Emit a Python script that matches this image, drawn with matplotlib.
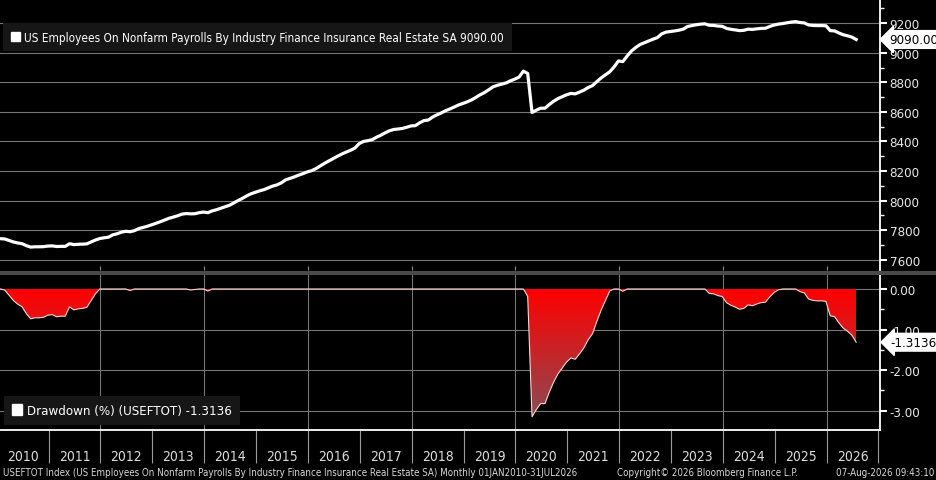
import numpy as np
import matplotlib.pyplot as plt
import matplotlib.transforms as mtransforms
from matplotlib.colors import LinearSegmentedColormap
from matplotlib.patches import Patch, Rectangle
from matplotlib.ticker import MultipleLocator, FixedLocator, FuncFormatter, NullFormatter

plt.rcParams['font.family'] = ['DejaVu Sans']
plt.rcParams['font.stretch'] = 'condensed'

# USEFTOT monthly, Jan 2010 - Jul 2026 (thousands)
payrolls = [
    7742, 7740, 7730, 7720, 7713, 7708, 7695, 7685, 7687, 7687, 7688, 7692,  # 2010
    7693, 7689, 7690, 7690, 7708, 7702, 7704, 7705, 7707, 7720, 7733, 7743,  # 2011
    7748, 7752, 7768, 7775, 7786, 7792, 7789, 7796, 7810, 7818, 7826, 7836,  # 2012
    7846, 7857, 7868, 7880, 7888, 7897, 7908, 7912, 7910, 7911, 7918, 7922,  # 2013
    7918, 7930, 7938, 7948, 7958, 7968, 7984, 8000, 8015, 8032, 8046, 8056,  # 2014
    8066, 8074, 8086, 8098, 8106, 8120, 8140, 8150, 8160, 8172, 8182, 8194,  # 2015
    8202, 8216, 8234, 8252, 8268, 8284, 8300, 8315, 8328, 8340, 8355, 8385,  # 2016
    8400, 8405, 8412, 8428, 8442, 8458, 8472, 8481, 8484, 8488, 8496, 8505,  # 2017
    8507, 8526, 8541, 8545, 8565, 8580, 8593, 8608, 8620, 8633, 8647, 8657,  # 2018
    8668, 8681, 8698, 8716, 8731, 8750, 8770, 8780, 8788, 8796, 8810, 8822,  # 2019
    8835, 8876, 8860, 8596, 8612, 8625, 8625, 8650, 8672, 8690, 8703, 8716,  # 2020
    8725, 8722, 8734, 8747, 8765, 8778, 8805, 8830, 8851, 8872, 8905, 8945,  # 2021
    8940, 8978, 9012, 9036, 9056, 9068, 9080, 9092, 9103, 9128, 9140, 9144,  # 2022
    9148, 9153, 9160, 9178, 9184, 9190, 9194, 9196, 9186, 9185, 9181, 9179,  # 2023
    9165, 9159, 9155, 9150, 9152, 9160, 9158, 9162, 9165, 9166, 9178, 9188,  # 2024
    9194, 9198, 9203, 9208, 9211, 9205, 9202, 9188, 9185, 9184, 9184, 9183,  # 2025
    9150, 9148, 9134, 9122, 9115, 9106, 9090,                                # 2026
]
start_year = 2010
years = list(range(2010, 2027))

title_top = 'US Employees On Nonfarm Payrolls By Industry Finance Insurance Real Estate SA 9090.00'
title_bot = 'Drawdown (%) (USEFTOT) -1.3136'
footer_left = ('USEFTOT Index (US Employees On Nonfarm Payrolls By Industry Finance Insurance '
               'Real Estate SA) Monthly 01JAN2010-31JUL2026')
footer_mid = 'Copyright\u00a9 2026 Bloomberg Finance L.P.'
footer_right = '07-Aug-2026 09:43:10'

vals = np.array(payrolls, dtype=float)
# monthly points sit near the end of each month, as Bloomberg plots them
t = start_year + (np.arange(len(vals)) + 0.85) / 12.0
dd = (vals / np.maximum.accumulate(vals) - 1) * 100

W, H = 937, 481
def rect(x0, y0, x1, y1):
    return [x0 / W, 1 - y1 / H, (x1 - x0) / W, (y1 - y0) / H]

fig = plt.figure(figsize=(W / 100, H / 100), dpi=100, facecolor='black')
ax1 = fig.add_axes(rect(0, 0, 880, 271))
ax2 = fig.add_axes(rect(0, 276, 880, 431))

grid_c = '#767676'
txt_c = '#e8e8e8'
xmin, xmax = 2010.063, 2027.03

for ax in (ax1, ax2):
    ax.set_facecolor('black')
    for s in ('left', 'top', 'bottom'):
        ax.spines[s].set_visible(False)
    ax.spines['right'].set_color('white')
    ax.spines['right'].set_linewidth(1.3)
    ax.yaxis.tick_right()
    ax.tick_params(axis='y', which='major', colors='white', length=5, width=1.5,
                   labelsize=9.5, labelcolor=txt_c, pad=2)
    ax.tick_params(axis='y', which='minor', colors='white', length=3, width=1)
    ax.set_xlim(xmin, xmax)

# top panel
ax1.plot(t, vals, color='white', lw=2.3, solid_joinstyle='round', zorder=3)
ax1.set_xlim(xmin, xmax)
ax1.set_ylim(7530, 9364)
ax1.yaxis.set_major_locator(MultipleLocator(200))
ax1.yaxis.set_minor_locator(MultipleLocator(100))
ax1.yaxis.set_major_formatter(FuncFormatter(lambda v, p: f'{v:.0f}'))
ax1.grid(axis='y', color=grid_c, lw=0.8)
ax1.xaxis.set_major_locator(FixedLocator(years[2::2]))
ax1.xaxis.set_major_formatter(NullFormatter())
ax1.tick_params(axis='x', direction='in', length=3, color='#909090')

ax1.legend(handles=[Patch(color='white', label=title_top)], loc='upper left',
           bbox_to_anchor=(3 / 880, 1 - 24 / 271), facecolor='#161616', edgecolor='none',
           framealpha=1, fancybox=False, labelcolor='white', fontsize=8.5,
           handlelength=0.8, handleheight=0.8, handletextpad=0.35, borderpad=0.65,
           borderaxespad=0)

blend1 = mtransforms.blended_transform_factory(ax1.transAxes, ax1.transData)
ax1.text(1.011, vals[-1], f'{vals[-1]:.2f}', transform=blend1, ha='left', va='center',
         fontsize=9.5, color='black', clip_on=False, zorder=5,
         bbox=dict(boxstyle='larrow,pad=0.18', fc='white', ec='white'))

# bottom panel: drawdown
poly = ax2.fill_between(t, dd, 0, color='none', lw=0)
cmap = LinearSegmentedColormap.from_list('dd', ['#ff0000', '#8c4a52'])
grad = np.linspace(0, 1, 256).reshape(-1, 1)
img = ax2.imshow(grad, aspect='auto', cmap=cmap, origin='upper',
                 extent=[t[0], t[-1], dd.min(), 0], zorder=2)
img.set_clip_path(poly.get_paths()[0], transform=ax2.transData)
ax2.plot(t, dd, color='#ffd6d6', lw=0.8, zorder=3)

ax2.set_xlim(xmin, xmax)
ax2.set_ylim(-3.48, 0.345)
ax2.yaxis.set_major_locator(FixedLocator([0, -1, -2, -3]))
ax2.yaxis.set_minor_locator(FixedLocator([-0.5, -1.5, -2.5]))
ax2.yaxis.set_major_formatter(FuncFormatter(lambda v, p: f'{v:.2f}'))
ax2.grid(axis='y', color=grid_c, lw=0.8)
for yr in years[2::2]:
    ax2.axvline(yr, color=grid_c, lw=0.8, zorder=1)

ax2.spines['bottom'].set_visible(True)
ax2.spines['bottom'].set_color('white')
ax2.spines['bottom'].set_linewidth(1.3)
ax2.xaxis.set_major_locator(FixedLocator(years + [2027]))
ax2.xaxis.set_major_formatter(NullFormatter())
ax2.xaxis.set_minor_locator(FixedLocator([y + 0.5 for y in years]))
ax2.xaxis.set_minor_formatter(FuncFormatter(lambda v, p: f'{int(v)}'))
ax2.tick_params(axis='x', which='major', direction='out', length=24, width=0.8, color='#9a9a9a')
ax2.tick_params(axis='x', which='minor', length=0, pad=14, labelsize=10, labelcolor='#dcdcdc')

ax2.legend(handles=[Patch(color='white', label=title_bot)], loc='lower left',
           bbox_to_anchor=(4 / 880, 5 / 155), facecolor='#161616', edgecolor='none',
           framealpha=1, fancybox=False, labelcolor='white', fontsize=9.5,
           handlelength=0.8, handleheight=0.8, handletextpad=0.35, borderpad=0.6,
           borderaxespad=0)

blend2 = mtransforms.blended_transform_factory(ax2.transAxes, ax2.transData)
ax2.text(1.012, dd[-1], f'{dd[-1]:.4f}', transform=blend2, ha='left', va='center',
         fontsize=9.5, color='black', clip_on=False, zorder=5,
         bbox=dict(boxstyle='larrow,pad=0.18', fc='white', ec='white'))

# separator bar between the panels
fig.add_artist(Rectangle((0, 1 - 276 / H), 1, 4 / H, transform=fig.transFigure,
                         color='#4a4a4a', lw=0))

fig.text(3 / W, 1 - 473 / H, footer_left, fontsize=7, color='#d8d8d8', va='center')
fig.text(617 / W, 1 - 473 / H, footer_mid, fontsize=7, color='#d8d8d8', va='center')
fig.text(934 / W, 1 - 473 / H, footer_right, fontsize=7, color='#d8d8d8', va='center',
         ha='right')

fig.savefig('out.png', dpi=100, facecolor='black')
